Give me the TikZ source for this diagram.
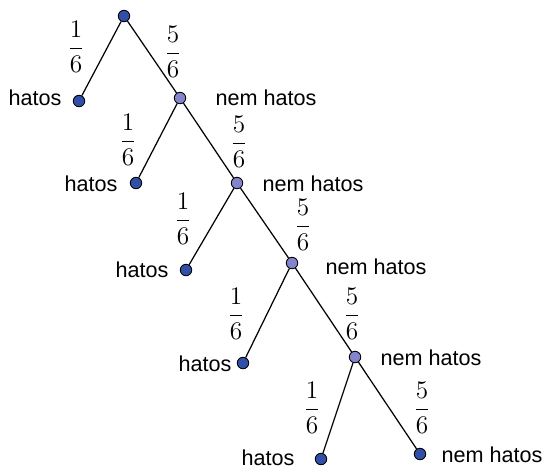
\documentclass[tikz,border=0pt]{standalone}
\usepackage{amsmath}
\usepackage{fontspec}
\setmainfont{Liberation Sans}
\usepackage{tikz}
\usetikzlibrary{positioning}
\definecolor{LeafBlue}{RGB}{48,80,168}
\definecolor{BranchBlue}{RGB}{132,132,204}

\begin{document}
\begin{tikzpicture}[x=0.02cm,y=-0.02cm,
    dot/.style={circle,draw=black,line width=0.5pt,inner sep=0pt,minimum size=0.23cm},
    leaf/.style={dot,fill=LeafBlue},
    branch/.style={dot,fill=BranchBlue},
    arm/.style={black,line width=0.7pt},
    lab/.style={font=\fontsize{12.3}{14}\selectfont,inner sep=0pt},
    prob/.style={font=\fontsize{15}{18}\selectfont,inner sep=0pt}
  ]
    \useasboundingbox (0,0) rectangle (543,468);
    % tree points
    \node[leaf] (R) at (124,16) {};
    \node[leaf] (H1) at (79,101) {};
    \node[branch] (N1) at (180,98) {};
    \node[leaf] (H2) at (136,183) {};
    \node[branch] (N2) at (237,183) {};
    \node[leaf] (H3) at (186,270) {};
    \node[branch] (N3) at (292,263) {};
    \node[leaf] (H4) at (243,363) {};
    \node[branch] (N4) at (355,357) {};
    \node[leaf] (H5) at (321,459) {};
    \node[leaf] (N5) at (420,454) {};
    % branches
    \draw[arm] (R)--(H1);
    \draw[arm] (R)--(N1);
    \draw[arm] (N1)--(H2);
    \draw[arm] (N1)--(N2);
    \draw[arm] (N2)--(H3);
    \draw[arm] (N2)--(N3);
    \draw[arm] (N3)--(H4);
    \draw[arm] (N3)--(N4);
    \draw[arm] (N4)--(H5);
    \draw[arm] (N4)--(N5);
    % outcomes
    \node[lab] (tH1) at (35,98) {hatos};
    \node[lab] (tN1) at (266,98) {nem hatos};
    \node[lab] (tH2) at (91,184) {hatos};
    \node[lab] (tN2) at (313,184) {nem hatos};
    \node[lab] (tH3) at (142,270) {hatos};
    \node[lab] (tN3) at (376,267) {nem hatos};
    \node[lab] (tH4) at (205,364) {hatos};
    \node[lab] (tN4) at (431,358) {nem hatos};
    \node[lab] (tH5) at (268,458) {hatos};
    \node[lab] (tN5) at (492,455) {nem hatos};
    % probabilities
    \node[prob] (p1) at (76,47) {$\dfrac{1}{6}$};
    \node[prob] (q1) at (173,52) {$\dfrac{5}{6}$};
    \node[prob] (p2) at (128,140) {$\dfrac{1}{6}$};
    \node[prob] (q2) at (239,142) {$\dfrac{5}{6}$};
    \node[prob] (p3) at (183,219) {$\dfrac{1}{6}$};
    \node[prob] (q3) at (303,225) {$\dfrac{5}{6}$};
    \node[prob] (p4) at (236,314) {$\dfrac{1}{6}$};
    \node[prob] (q4) at (352,314) {$\dfrac{5}{6}$};
    \node[prob] (p5) at (312,408) {$\dfrac{1}{6}$};
    \node[prob] (q5) at (422,408) {$\dfrac{5}{6}$};
\end{tikzpicture}
\end{document}
